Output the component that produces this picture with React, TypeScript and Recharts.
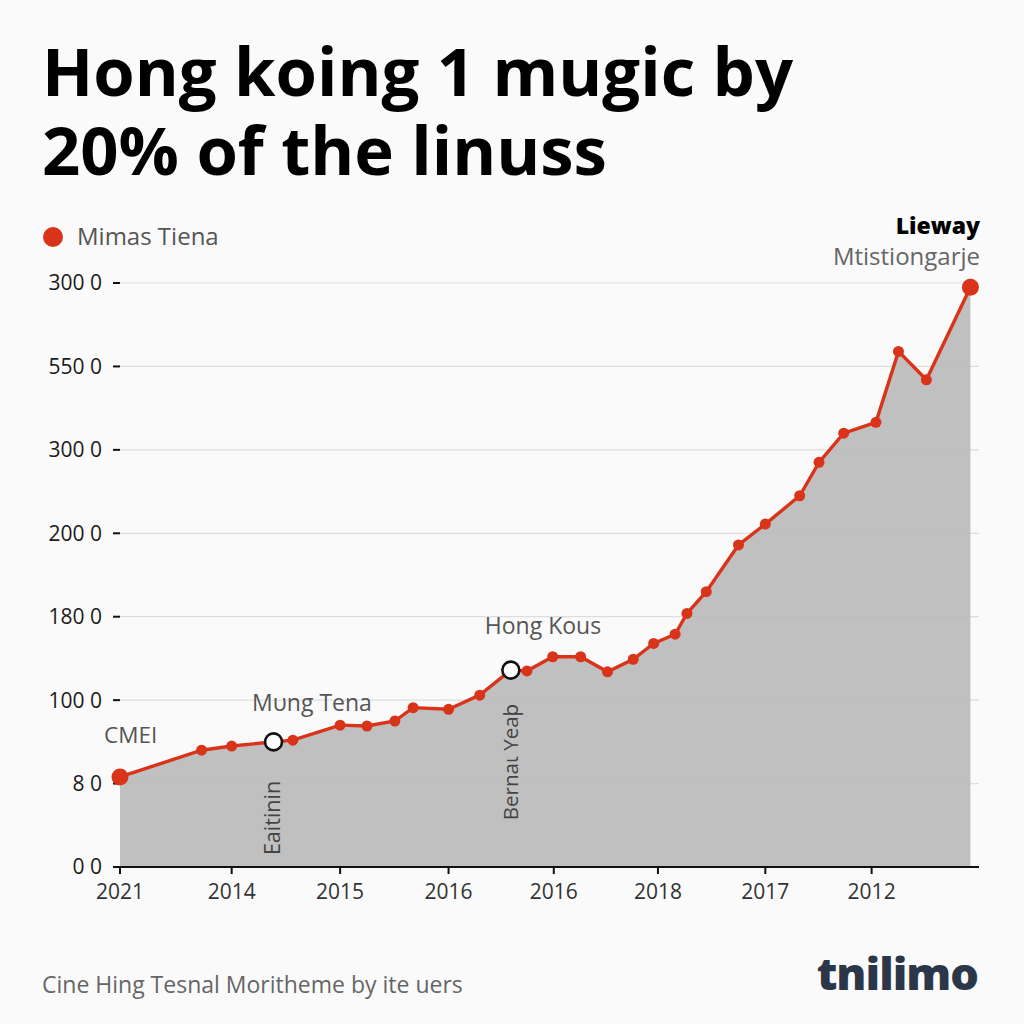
import React from 'react';
import { ComposedChart, Area, XAxis, YAxis, CartesianGrid } from 'recharts';

const xValues = [0, 0.76, 1.04, 1.43, 1.61, 2.05, 2.3, 2.56, 2.73, 3.06, 3.35, 3.64, 3.79, 4.03, 4.29, 4.54, 4.78, 4.97, 5.17, 5.28, 5.46, 5.76, 6.01, 6.33, 6.51, 6.74, 7.04, 7.25, 7.51, 7.92];
const yValues = [1.08, 1.4, 1.45, 1.5, 1.52, 1.7, 1.69, 1.75, 1.91, 1.89, 2.06, 2.36, 2.35, 2.52, 2.52, 2.34, 2.49, 2.68, 2.79, 3.04, 3.3, 3.86, 4.11, 4.45, 4.85, 5.2, 5.33, 6.18, 5.84, 6.95];
const markerKinds = ['big', 'dot', 'dot', 'open', 'dot', 'dot', 'dot', 'dot', 'dot', 'dot', 'dot', 'open', 'dot', 'dot', 'dot', 'dot', 'dot', 'dot', 'dot', 'dot', 'dot', 'dot', 'dot', 'dot', 'dot', 'dot', 'dot', 'dot', 'dot', 'big'];

const xTickValues = [0, 1.04, 2.05, 3.06, 4.04, 5.01, 6.01, 7.0];
const xTickLabels = ['2021', '2014', '2015', '2016', '2016', '2018', '2017', '2012'];
const yTickValues = [0, 1, 2, 3, 4, 5, 6, 7];
const yTickLabels = ['0 0', '8 0', '100 0', '180 0', '200 0', '300 0', '550 0', '300 0'];

const titleLines = ['Hong koing 1 mugic by', '20% of the linuss'];
const legendLabel = 'Mimas Tiena';
const cornerTitle = 'Lieway';
const cornerSubtitle = 'Mtistiongarje';
const footerText = 'Cine Hing Tesnal Moritheme by ite uers';
const logoText = 'tnilimo';

const data = xValues.map((x, i) => ({ x, y: yValues[i], kind: markerKinds[i] }));

const RED = '#d9331a';
const FONT = '"Open Sans", "Noto Sans", sans-serif';

const renderDot = (props: any) => {
  const { cx, cy, payload, index } = props;
  if (cx == null || cy == null) return <g key={`d${index}`} />;
  if (payload.kind === 'big') return <circle key={`d${index}`} cx={cx} cy={cy} r={8.5} fill={RED} stroke="none" />;
  if (payload.kind === 'open') return <circle key={`d${index}`} cx={cx} cy={cy} r={8.5} fill="#ffffff" stroke="#111" strokeWidth={2.6} />;
  return <circle key={`d${index}`} cx={cx} cy={cy} r={5.5} fill={RED} stroke="none" />;
};

export default function App() {
  return (
    <div style={{ position: 'absolute', left: 0, top: 0, width: 1024, height: 1024, background: '#fafafa', fontFamily: FONT }}>
      <ComposedChart
        width={1024}
        height={1024}
        data={data}
        margin={{ top: 283, right: 45, bottom: 127, left: 40 }}
      >
        <CartesianGrid horizontal vertical={false} stroke="#dedede" strokeWidth={1.2} />
        <XAxis
          type="number"
          dataKey="x"
          domain={[0, 8]}
          ticks={xTickValues}
          tickFormatter={(v: number, i: number) => xTickLabels[i]}
          axisLine={{ stroke: '#111', strokeWidth: 2 }}
          tickLine={{ stroke: '#111', strokeWidth: 2 }}
          tickSize={7}
          tickMargin={10}
          height={30}
          tick={{ fill: '#333', fontSize: 21, fontFamily: FONT }}
          interval={0}
        />
        <YAxis
          type="number"
          domain={[0, 7]}
          ticks={yTickValues}
          tickFormatter={(v: number, i: number) => yTickLabels[i]}
          axisLine={false}
          tickLine={{ stroke: '#111', strokeWidth: 2 }}
          tickSize={7}
          tickMargin={11}
          width={80}
          tick={{ fill: '#1a1a1a', fontSize: 21, fontFamily: FONT }}
          interval={0}
        />
        <Area
          type="linear"
          dataKey="y"
          stroke={RED}
          strokeWidth={3.4}
          fill="#b9b9b9"
          fillOpacity={0.9}
          dot={renderDot}
          activeDot={false}
          isAnimationActive={false}
        />
      </ComposedChart>
      <svg width={1024} height={1024} style={{ position: 'absolute', left: 0, top: 0, pointerEvents: 'none' }}>
        <text x={42} y={96} fontSize={67} fontWeight={700} fill="#000" fontFamily={FONT}>{titleLines[0]}</text>
        <text x={42} y={175} fontSize={67} fontWeight={700} fill="#000" fontFamily={FONT}>{titleLines[1]}</text>

        <circle cx={53} cy={237} r={10} fill={RED} />
        <text x={77} y={245} fontSize={24} fill="#555" fontFamily={FONT}>{legendLabel}</text>

        <text x={980} y={234} fontSize={23} fontWeight={800} fill="#000" textAnchor="end" fontFamily={FONT}>{cornerTitle}</text>
        <text x={980} y={265} fontSize={24} fill="#666" textAnchor="end" fontFamily={FONT}>{cornerSubtitle}</text>

        <text x={104} y={743} fontSize={22.5} fill="#555" fontFamily={FONT}>CMEI</text>
        <text x={312} y={711} fontSize={23} fill="#555" textAnchor="middle" fontFamily={FONT}>Mυng Tena</text>
        <text x={543} y={634} fontSize={23} fill="#555" textAnchor="middle" fontFamily={FONT}>Hong Kous</text>
        <text x={0} y={0} fontSize={21.5} fill="#444" textAnchor="middle" fontFamily={FONT} transform="translate(280 818) rotate(-90)">Eaitinin</text>
        <text x={0} y={0} fontSize={20.5} fill="#444" textAnchor="middle" fontFamily={FONT} transform="translate(518 762) rotate(-90)">Bernaι Yeaϸ</text>

        <text x={42} y={993} fontSize={23} fill="#666" fontFamily={FONT}>{footerText}</text>
        <text x={978} y={990} fontSize={45} fontWeight={800} fill="#2b3748" textAnchor="end" fontFamily={FONT} letterSpacing={-1}>{logoText}</text>
      </svg>
    </div>
  );
}
